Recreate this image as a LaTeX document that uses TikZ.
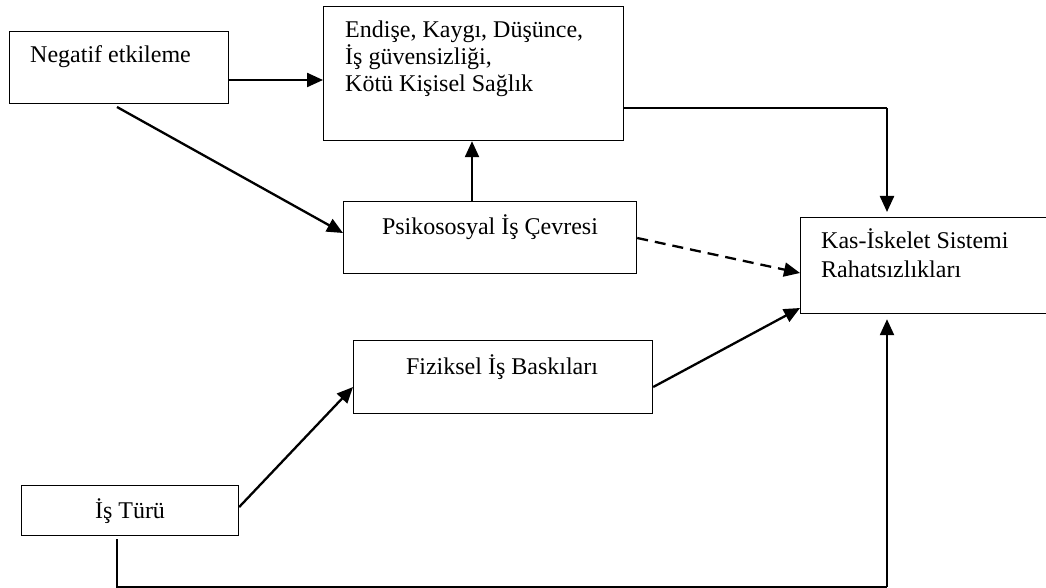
\documentclass[tikz,border=0pt]{standalone}
\usepackage{fontspec}
\setmainfont{Liberation Serif}
\usetikzlibrary{arrows.meta,calc}
\begin{document}
\begin{tikzpicture}[x=1pt,y=-1pt,
  box/.style={draw, line width=1.2pt, inner sep=0pt, anchor=north west},
  lbl/.style={inner sep=0pt, font=\fontsize{24}{27.6}\selectfont},
  conn/.style={line width=2.3pt, -{Triangle[length=16pt,width=14pt]}},
  thinline/.style={line width=1.2pt},
  dashline/.style={dash pattern=on 11pt off 7pt}]
\useasboundingbox (0,0) rectangle (1046,588);
% boxes
\node[box, minimum width=219pt, minimum height=72pt] (neg) at (9,31) {};
\node[box, minimum width=300pt, minimum height=134pt] (end) at (323,6) {};
\node[box, minimum width=293pt, minimum height=72pt] (psi) at (343,201) {};
\node[box, minimum width=270pt, minimum height=96pt] (kas) at (800,217) {};
\node[box, minimum width=299pt, minimum height=73pt] (fiz) at (353,340) {};
\node[box, minimum width=217pt, minimum height=50pt] (tur) at (21,485) {};
% texts
\node[lbl, anchor=base west] (negt) at (30,63) {Negatif etkileme};
\node[lbl, anchor=base west] (endt1) at (345,38) {Endişe, Kaygı, Düşünce,};
\node[lbl, anchor=base west] (endt2) at (345,65) {İş güvensizliği,};
\node[lbl, anchor=base west] (endt3) at (345,92) {Kötü Kişisel Sağlık};
\node[lbl, anchor=base] (psit) at (490,234) {Psikososyal İş Çevresi};
\node[lbl, anchor=base west] (kast1) at (821,248) {Kas-İskelet Sistemi};
\node[lbl, anchor=base west] (kast2) at (821,277) {Rahatsızlıkları};
\node[lbl, anchor=base] (fizt) at (502,374) {Fiziksel İş Baskıları};
\node[lbl, anchor=base] (turt) at (130,518) {İş Türü};
% connectors
\coordinate (negd) at (117,107);
\coordinate (c1) at (887,108);
\coordinate (tb) at (117,539);
\coordinate (b1) at (117,587);
\coordinate (b2) at (887,587);
\draw[conn] (neg.east |- 0,80) -- (end.west |- 0,80);
\draw[conn] (negd) -- (psi.west |- 0,233);
\draw[conn] (psi.north -| 472,0) -- (end.south -| 472,0);
\draw[thinline] (end.east |- c1) -- (c1);
\draw[conn, shorten >=5pt] (c1) -- (kas.north -| c1);
\draw[conn, dashline] (psi.east |- 0,238) -- (kas.west |- 0,273);
\draw[conn] (fiz.east |- 0,387) -- (kas.west |- 0,308);
\draw[conn] (tur.east |- 0,507) -- (fiz.west |- 0,387);
\draw[thinline] (tb) -- (b1) -- (b2);
\draw[conn, shorten >=5pt] (b2) -- (kas.south -| b2);
\end{tikzpicture}
\end{document}
